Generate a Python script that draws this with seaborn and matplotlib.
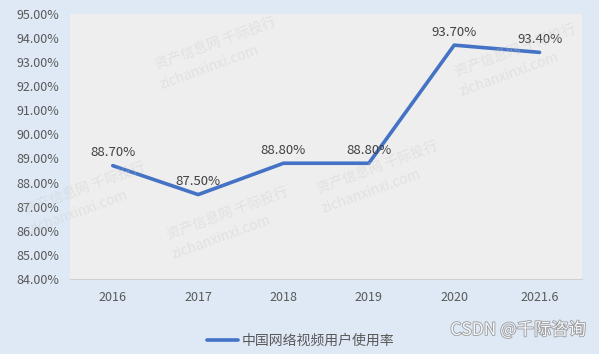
import matplotlib
matplotlib.use("Agg")
import matplotlib.pyplot as plt
import matplotlib.patheffects as pe
import seaborn as sns
import pandas as pd

years = ["2016", "2017", "2018", "2019", "2020", "2021.6"]
rates = [88.7, 87.5, 88.8, 88.8, 93.7, 93.4]
series_name = "中国网络视频用户使用率"

df = pd.DataFrame({"year": years, "rate": rates})

sns.set_style("white")
plt.rcParams['font.family'] = ['Noto Sans CJK SC', 'DejaVu Sans']

fig = plt.figure(figsize=(5.99, 3.54), dpi=100, facecolor="#dee9f5")
ax = fig.add_axes([0.117, 0.212, 0.855, 0.749])
ax.set_facecolor("#eeeeee")

sns.lineplot(data=df, x="year", y="rate", ax=ax, color="#4472c4",
             linewidth=2.6, label=series_name, sort=False)

for i, v in enumerate(rates):
    ax.text(i, v + 0.27, f"{v:.2f}%", ha="center", va="bottom",
            fontsize=9.5, color="#404040")

ax.set_xlim(-0.5, len(years) - 0.5)
ax.set_ylim(84, 95)
ax.set_yticks(range(84, 96))
ax.set_yticklabels([f"{t:.2f}%" for t in range(84, 96)])
ax.set_xlabel("")
ax.set_ylabel("")
ax.tick_params(axis="both", length=0, labelsize=9, colors="#595959")
ax.tick_params(axis="x", pad=9)
ax.tick_params(axis="y", pad=8)
for s in ["top", "right", "left"]:
    ax.spines[s].set_visible(False)
ax.spines["bottom"].set_color("#d0d0d0")

leg = ax.legend(loc="center", bbox_to_anchor=(0.451, -0.235),
                frameon=False, fontsize=10, handlelength=2.2, handletextpad=0.3)
for t in leg.get_texts():
    t.set_color("#595959")

# faint watermarks
for (x, y) in [(0.36, 0.88), (0.14, 0.47), (0.38, 0.40), (0.63, 0.53), (0.86, 0.86)]:
    fig.text(x, y, "资产信息网 千际投行", fontsize=10, color="#c8c8c8", alpha=0.35,
             rotation=20, ha="center", va="center")
    fig.text(x - 0.01, y - 0.07, "zichanxinxi.com", fontsize=10, color="#c8c8c8", alpha=0.35,
             rotation=20, ha="center", va="center")
fig.text(0.978, 0.068, "CSDN @千际咨询", fontsize=12.5, color="#f4f7fb", ha="right",
         va="center", path_effects=[pe.withStroke(linewidth=1.2, foreground="#9a9a9a")])

fig.savefig("out.png", dpi=100, facecolor=fig.get_facecolor())
